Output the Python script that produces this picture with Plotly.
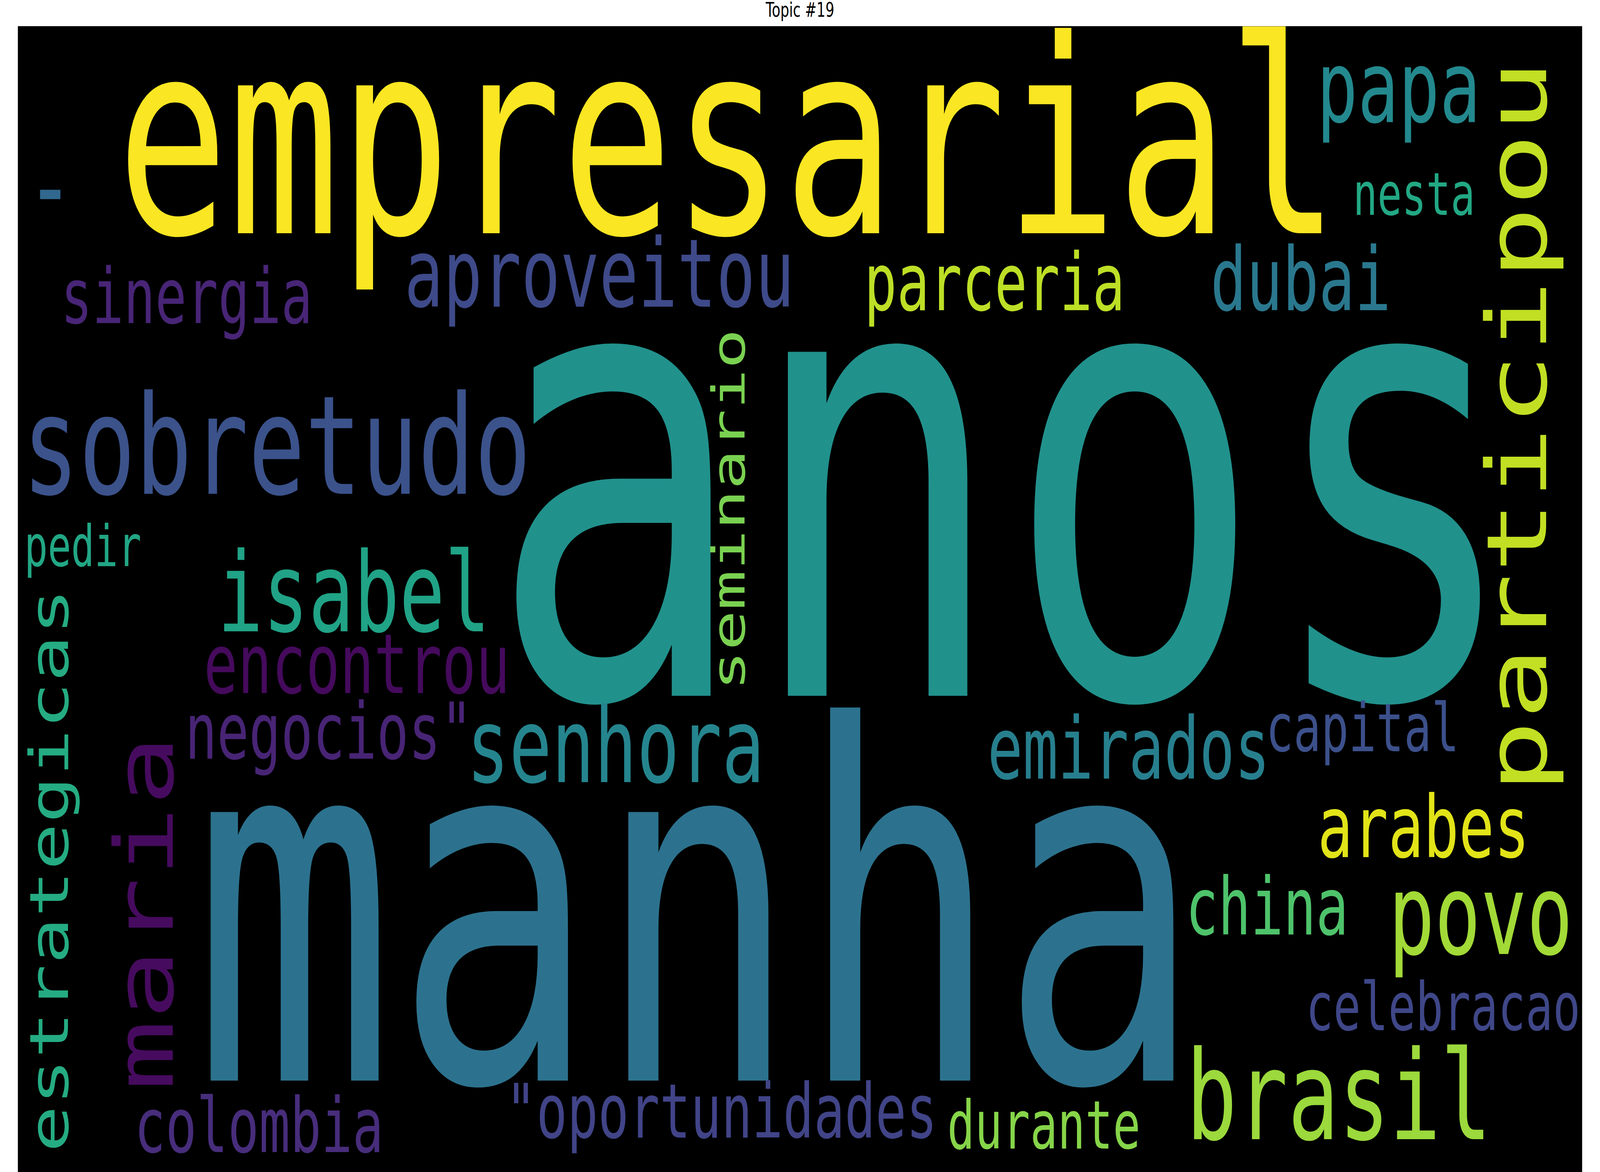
"""Word cloud for topic #19, redrawn with Plotly annotations."""

import plotly.graph_objects as go

# --- data: words and their font sizes (px) ---
words = [
    "anos", "manha", "empresarial", "sobretudo", "participou", "maria",
    "brasil", "povo", "isabel", "senhora", "papa", "aproveitou", "dubai",
    "emirados", "arabes", "encontrou", "parceria", "china", "estrategicas",
    'negocios"', '"oportunidades', "colombia", "sinergia", "seminario",
    "celebracao", "durante", "capital", "nesta", "pedir", "-",
]
sizes = [
    1610, 1257, 692, 352, 312, 303,
    317, 287, 283, 265, 255, 243, 225,
    220, 220, 212, 203, 203, 200,
    199, 192, 194, 196, 171,
    171, 172, 172, 152, 146, 300,
]

# --- placement in the cloud (image pixels), rotation and colour ---
pos_x = [
    3770, 2615, 2730, 1037, 5690, 543,
    5020, 5552, 1327, 2308, 5245, 2247, 4877,
    4233, 5338, 1338, 3730, 4751, 185,
    1233, 2705, 971, 700, 2732,
    5412, 3914, 5109, 5303, 311, 188,
]
pos_y = [
    1224, 2330, 357, 1142, 1092, 2337,
    2806, 2343, 1518, 1910, 223, 700, 716,
    1917, 2118, 1700, 724, 2322, 2228,
    1873, 2845, 2882, 759, 1305,
    2577, 2880, 1863, 497, 1398, 476,
]
vertical = {"participou", "maria", "estrategicas", "seminario"}
colors = [
    "#21918c", "#2c728e", "#fae622", "#3b528b", "#c2df23", "#460b5e",
    "#9bd93c", "#a2da37", "#20a386", "#25858e", "#23898e", "#3e4a89", "#2a788e",
    "#277f8e", "#e2e418", "#450a5c", "#bddf26", "#4ec36b", "#25ac82",
    "#482475", "#414487", "#472d7b", "#482576", "#7ad151",
    "#3f4788", "#86d549", "#3c508b", "#22a884", "#22a785", "#31688e",
]

W, H = 6000, 3000
LEFT, TOP, RIGHT = 67, 67, 5933

fig = go.Figure()

# invisible trace so the axes exist
fig.add_trace(go.Scatter(x=[LEFT, RIGHT], y=[TOP, H], mode="markers",
                         marker=dict(opacity=0), hoverinfo="skip",
                         showlegend=False))

for word, size, x, y, col in zip(words, sizes, pos_x, pos_y, colors):
    fig.add_annotation(
        x=x, y=y, xref="x", yref="y",
        text=word, showarrow=False,
        xanchor="center", yanchor="middle",
        textangle=-90 if word in vertical else 0,
        font=dict(family="DejaVu Sans Mono", size=size, color=col),
    )

fig.update_layout(
    width=W, height=H,
    margin=dict(l=LEFT, r=W - RIGHT, t=TOP, b=0),
    paper_bgcolor="white",
    plot_bgcolor="black",
    showlegend=False,
    title=dict(text="Topic #19", x=0.5, xanchor="center",
               y=1 - 25 / H, yanchor="middle",
               font=dict(family="DejaVu Sans", size=52, color="black")),
)
fig.update_xaxes(range=[LEFT, RIGHT], visible=False, fixedrange=True)
fig.update_yaxes(range=[H, TOP], visible=False, fixedrange=True)

# the browser viewport can be narrower than 6000px; squeeze the page to fit
fit = (
    "document.body.style.margin='0';"
    "document.body.style.overflow='hidden';"
    "var gd=document.getElementById('{plot_id}');"
    f"var sx=window.innerWidth/{W}, sy=window.innerHeight/{H};"
    "gd.style.transformOrigin='0 0';"
    "gd.style.transform='scale('+sx+','+sy+')';"
)
fig.write_html("out.html", config={"displayModeBar": False}, post_script=fit)
